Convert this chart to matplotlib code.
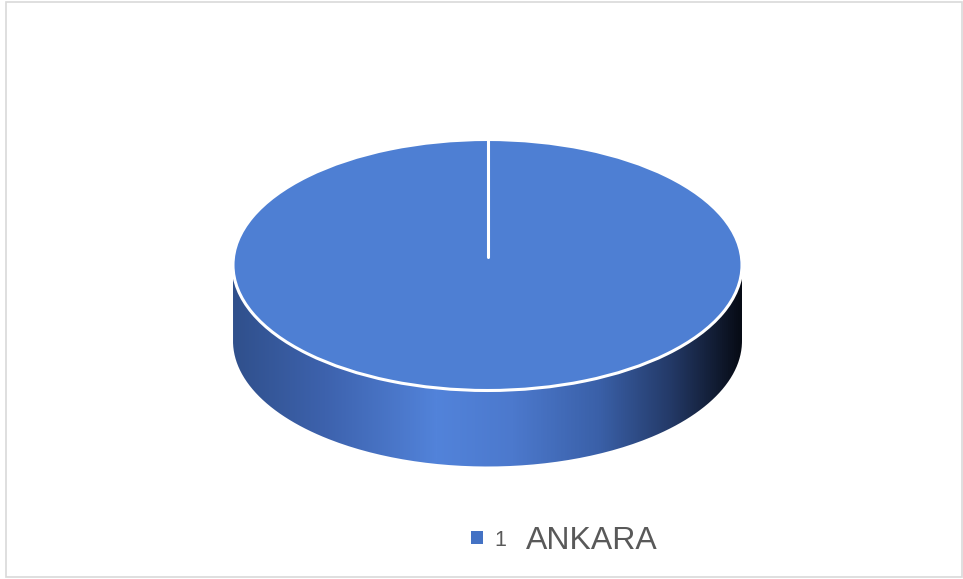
import numpy as np
import matplotlib
matplotlib.use("Agg")
import matplotlib.pyplot as plt
from matplotlib.patches import Wedge, Rectangle, Patch, PathPatch
from matplotlib.path import Path
from matplotlib.colors import LinearSegmentedColormap
from matplotlib.transforms import Affine2D

plt.rcParams["font.family"] = ["Liberation Sans", "DejaVu Sans"]

# data
categories = ["1"]
values = [1]
chart_label = "ANKARA"
slice_colors = ["#4e7fd3"]

W, H = 963, 579
fig = plt.figure(figsize=(W / 100, H / 100), dpi=100, facecolor="white")
ax = fig.add_axes([0, 0, 1, 1])
ax.set_xlim(0, W)
ax.set_ylim(H, 0)
ax.axis("off")

# chart frame
ax.add_patch(Rectangle((6, 1.5), W - 7, H - 4, fill=False, edgecolor="#d9d9d9", linewidth=1.2))

# pie geometry (pixels)
cx, cy = 487.5, 265
rx, ry = 254.5, 125.5
depth = 76

# side wall: lower half of top rim down to the bottom rim
t = np.linspace(0, np.pi, 200)
top_x = cx + rx * np.cos(t)
top_y = cy + ry * np.sin(t)
bot_x = cx + rx * np.cos(t[::-1])
bot_y = cy + depth + ry * np.sin(t[::-1])
verts = np.column_stack([np.concatenate([top_x, bot_x]), np.concatenate([top_y, bot_y])])
verts = np.vstack([verts, verts[:1]])
side_path = Path(verts)

side_cmap = LinearSegmentedColormap.from_list(
    "side",
    [(0.00, "#30508c"), (0.18, "#3d62ad"), (0.40, "#5283da"), (0.55, "#4c79cd"),
     (0.72, "#3a60a8"), (0.86, "#243a68"), (1.00, "#070b15")],
)
grad = np.linspace(0, 1, 512).reshape(1, -1)
im = ax.imshow(grad, cmap=side_cmap, aspect="auto",
               extent=(cx - rx, cx + rx, cy + ry + depth + 2, cy - 2), zorder=1)
clip = PathPatch(side_path, transform=ax.transData, facecolor="none", edgecolor="none")
ax.add_patch(clip)
im.set_clip_path(clip)

# top face: one wedge per category, clockwise from 12 o'clock
unit = Affine2D().scale(rx, -ry).translate(cx, cy) + ax.transData
total = sum(values)
start = 90
for v, c in zip(values, slice_colors):
    sweep = 360 * v / total
    ax.add_patch(Wedge((0, 0), 1, start - sweep, start, facecolor=c, edgecolor="white",
                       linewidth=2.2, transform=unit, zorder=3))
    # slice boundary from the centre out to the rim
    a = np.deg2rad(start)
    ax.plot([0.06 * np.cos(a), np.cos(a)], [0.06 * np.sin(a), np.sin(a)],
            color="white", linewidth=2.2, solid_capstyle="round", transform=unit, zorder=4)
    start -= sweep

# legend
handles = [Patch(facecolor="#4472c4", edgecolor="none", label=lab) for lab in categories]
ax.legend(handles=handles, loc="center left", bbox_to_anchor=(471 / W, 1 - 540 / H),
          bbox_transform=fig.transFigure, frameon=False, fontsize=15.5,
          labelcolor="#595959", handlelength=0.55, handleheight=0.55,
          handletextpad=0.55, borderpad=0, borderaxespad=0)
fig.text(526 / W, 1 - 541 / H, chart_label, fontsize=23, color="#595959",
         ha="left", va="center")

fig.savefig("out.png", dpi=100, facecolor="white")
